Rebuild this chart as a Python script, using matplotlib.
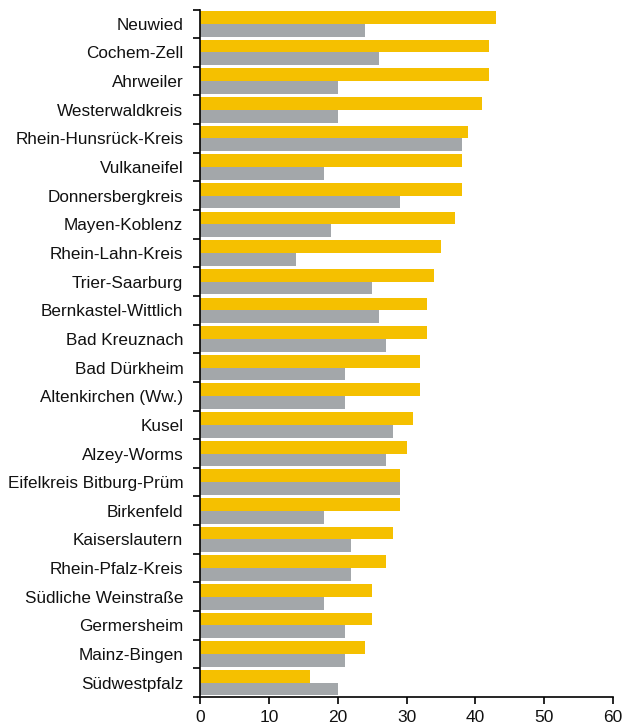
import matplotlib
matplotlib.use("Agg")
import matplotlib.pyplot as plt
import numpy as np

plt.rcParams['font.family'] = ['Liberation Sans', 'DejaVu Sans']

categories = ["Neuwied", "Cochem-Zell", "Ahrweiler", "Westerwaldkreis",
              "Rhein-Hunsrück-Kreis", "Vulkaneifel", "Donnersbergkreis",
              "Mayen-Koblenz", "Rhein-Lahn-Kreis", "Trier-Saarburg",
              "Bernkastel-Wittlich", "Bad Kreuznach", "Bad Dürkheim",
              "Altenkirchen (Ww.)", "Kusel", "Alzey-Worms",
              "Eifelkreis Bitburg-Prüm", "Birkenfeld", "Kaiserslautern",
              "Rhein-Pfalz-Kreis", "Südliche Weinstraße", "Germersheim",
              "Mainz-Bingen", "Südwestpfalz"]
yellow_values = [43, 42, 42, 41, 39, 38, 38, 37, 35, 34, 33, 33, 32, 32, 31,
                 30, 29, 29, 28, 27, 25, 25, 24, 16]
gray_values = [24, 26, 20, 20, 38, 18, 29, 19, 14, 25, 26, 27, 21, 21, 28,
               27, 29, 18, 22, 22, 18, 21, 21, 20]
x_ticks = [0, 10, 20, 30, 40, 50, 60]

fig = plt.figure(figsize=(6.36, 7.28), dpi=100)
ax = fig.add_axes([200/636, 1-697/728, 413/636, (697-9.5)/728])

y = np.arange(len(categories))
h = 0.446
ax.barh(y - h/2, yellow_values, height=h, color='#F5C000', linewidth=0)
ax.barh(y + h/2, gray_values, height=h, color='#A3A7AA', linewidth=0)

ax.set_ylim(len(categories) - 0.5, -0.5)
ax.set_xlim(0, 60)
ax.set_xticks(x_ticks)
ax.set_xticklabels([str(t) for t in x_ticks], fontsize=12.5, color='#111111')

ax.set_yticks(y)
ax.set_yticklabels(categories, fontsize=12.3, color='#111111')
ax.tick_params(axis='y', which='major', length=0, pad=12)
ax.set_yticks(np.arange(len(categories) + 1) - 0.5, minor=True)
ax.tick_params(axis='y', which='minor', length=5, width=1.2, direction='out')
ax.tick_params(axis='x', length=5, width=1.2, direction='out', pad=4)

for s in ['top', 'right']:
    ax.spines[s].set_visible(False)
for s in ['left', 'bottom']:
    ax.spines[s].set_linewidth(1.2)
    ax.spines[s].set_color('black')

fig.savefig('out.png', dpi=100)
